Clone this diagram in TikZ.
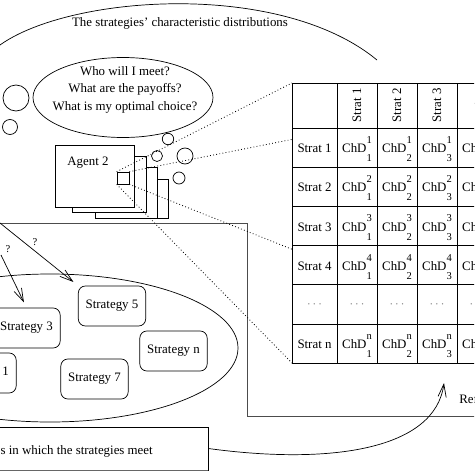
\documentclass[tikz,border=0pt]{standalone}
\usepackage{fontspec}
\setmainfont{Liberation Serif}
\usetikzlibrary{positioning,arrows.meta}
\newcommand{\idx}{\fontsize{9}{10}\selectfont}
\newcommand{\chd}[2]{ChD\rlap{\raisebox{0.7em}{\idx #1}}\raisebox{-0.7em}{\idx #2}}
\tikzset{
  strat/.style={draw,rounded corners=6pt,minimum width=2.02cm,minimum height=1.2cm,fill=white},
  bubble/.style={draw,fill=white},
  barb/.style={-{Straight Barb[length=11pt,width=7pt]}},
  zoomline/.style={dotted,line width=0.7pt},
  frame/.style={black!70}
}

\begin{document}
\begin{tikzpicture}[x=0.03cm,y=-0.03cm,font=\fontsize{11}{13}\selectfont,line width=0.6pt]
  \useasboundingbox (0,0) rectangle (474,474);
  \clip (0,0) rectangle (474,474);
  \draw (0,45) .. controls (70,-5) and (280,-20) .. (377,60);
  \node (title) at (180,23) {The strategies' characteristic distributions};
  \draw (123,97.5) ellipse [x radius=90,y radius=40];
  \node[align=center,font=\fontsize{11}{15}\selectfont] (ask) at (125,89.5)
    {Who will I meet?\\What are the payoffs?\\What is my optimal choice?};
  \draw[bubble] (16,98) circle [radius=13];
  \draw[bubble] (10,127) circle [radius=7.5];
  \draw[bubble] (168,139) circle [radius=5.7];
  \draw[bubble] (157,156) circle [radius=5.5];
  \draw[bubble] (185,156) circle [radius=8];
  \draw[bubble] (179,178) circle [radius=6];
  \filldraw[fill=white] (110,179) rectangle (168,218);
  \filldraw[fill=white] (95,167) rectangle (157,218);
  \filldraw[fill=white] (72,156) rectangle (146,212);
  \filldraw[fill=white] (55,145) rectangle (134,207);
  \node (agent) at (88,163) {Agent 2};
  \node[draw,minimum size=0.36cm,inner sep=0pt] (zoom) at (123,178) {};
  \draw[frame] (-5,223) -- (247,223) -- (247,416) -- (480,416);
  \draw (50,348) ellipse [x radius=188,y radius=74];
  \node[strat] (s5) at (112,306) {Strategy 5};
  \node[strat] (s3) at (26.5,328) {Strategy 3};
  \node[strat] (sn) at (173.5,351) {Strategy n};
  \node[strat] (s7) at (94.5,379) {Strategy 7};
  \node[strat] (s1) at (-17.5,373) {Strategy 1};
  \coordinate (from1) at (-10,215);
  \coordinate (from2) at (1,255);
  \draw[barb,shorten >=5pt] (from1) -- (s5.north west);
  \draw[barb,shorten >=5pt] (from2) -- (s3.north);
  \node[font=\idx] (q1) at (35,242) {?};
  \node[font=\idx] (q2) at (8,249) {?};
  \coordinate (tab-nw) at (292,83);
  \coordinate (tab-ne) at (577,83);
  \coordinate (tab-sw) at (292,363);
  \coordinate (tab-se) at (577,363);
  \draw[zoomline] (zoom.north west) -- (tab-nw);
  \draw[zoomline] (zoom.north east) -- (tab-ne);
  \draw[zoomline] (zoom.south west) -- (tab-sw);
  \draw[zoomline] (zoom.south east) -- (tab-se);
  \filldraw[fill=white] (tab-nw) rectangle (tab-se);
  \foreach \x in {337,377,417,457,497,537}
    \draw (\x,83) -- (\x,363);
  \foreach \y in {128,167.2,206.4,245.6,284.8,324}
    \draw (292,\y) -- (577,\y);
  \foreach \c/\x in {1/357,2/397,3/437}
    \node[rotate=90] (head-\c) at (\x,105.5) {Strat \c};
  \foreach \r/\y/\k in {1/147.6/1,2/186.8/2,3/226/3,4/265.2/4,6/343.6/n} {
    \node[anchor=base] (row-\r) at (314.5,\y+5) {Strat \k};
    \foreach \c/\x in {1/357,2/397,3/437,4/477}
      \node[anchor=base] (cell-\r-\c) at (\x,\y+5) {\chd{\k}{\c}};
  }
  \foreach \c/\x in {0/314.5,1/357,2/397,3/437,4/477}
    \node[gray] (dots-\c) at (\x,304.4) {$\cdots$};
  \node[draw,minimum width=6.39cm,minimum height=1.29cm] (envbox) at (101.5,448.5) {};
  \draw[line width=1.4pt,black!60] (envbox.south west) -- (envbox.south east);
  \node[anchor=east] (env) at (157,451) {s in which the strategies meet};
  \coordinate (tip) at (444,383);
  \node[anchor=west] (ref) at (455,399) {Ref};
  \draw[barb] (envbox.east) .. controls (330,465) and (435,450) .. (tip);
\end{tikzpicture}
\end{document}
